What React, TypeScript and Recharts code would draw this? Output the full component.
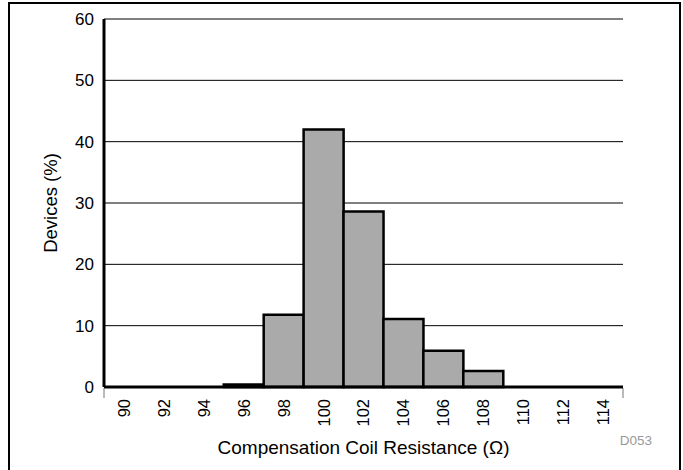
import React from 'react';
import { BarChart, Bar, XAxis, YAxis, CartesianGrid, Label } from 'recharts';

const categories = ['90', '92', '94', '96', '98', '100', '102', '104', '106', '108', '110', '112', '114'];
const devicesPct = [0, 0, 0, 0.4, 11.8, 42.0, 28.6, 11.1, 5.9, 2.6, 0, 0, 0];
const yTicks = [0, 10, 20, 30, 40, 50, 60];

const data = categories.map((c, i) => ({ bin: c, pct: devicesPct[i] }));

const FONT = "Arial, 'Liberation Sans', sans-serif";

const XTick = (props: any) => {
  const { x, y, payload } = props;
  return (
    <text
      x={x}
      y={y}
      transform={`rotate(-90, ${x}, ${y})`}
      textAnchor="end"
      dy="0.36em"
      style={{ fontSize: 16.5, fontFamily: FONT }}
      fill="#000"
    >
      {payload.value}
    </text>
  );
};

const YTick = (props: any) => {
  const { x, y, payload } = props;
  return (
    <text
      x={x}
      y={y}
      textAnchor="end"
      dy="0.36em"
      style={{ fontSize: 17, fontFamily: FONT }}
      fill="#000"
    >
      {payload.value}
    </text>
  );
};

const XTitle = (props: any) => {
  const vb = props.viewBox || { x: 104, y: 387, width: 519, height: 83 };
  return (
    <text
      x={vb.x + vb.width / 2}
      y={vb.y + 67}
      textAnchor="middle"
      style={{ fontSize: 19, fontFamily: FONT }}
      fill="#000"
    >
      Compensation Coil Resistance (Ω)
    </text>
  );
};

const YTitle = (props: any) => {
  const vb = props.viewBox || { x: 0, y: 19, width: 104, height: 368 };
  const cx = vb.x + 50;
  const cy = vb.y + vb.height / 2;
  return (
    <text
      x={cx}
      y={cy}
      transform={`rotate(-90, ${cx}, ${cy})`}
      textAnchor="middle"
      dy="0.36em"
      style={{ fontSize: 18.5, fontFamily: FONT }}
      fill="#000"
    >
      Devices (%)
    </text>
  );
};

export default function App() {
  return (
    <div style={{ position: 'absolute', left: 0, top: 0, width: 683, height: 470, background: '#fff', overflow: 'hidden' }}>
      <div
        style={{
          position: 'absolute',
          left: 8,
          top: 2,
          width: 673,
          height: 480,
          border: '2px solid #000',
          boxSizing: 'border-box',
        }}
      />
      <BarChart
        width={683}
        height={470}
        data={data}
        margin={{ top: 19, right: 60, bottom: 0, left: 0 }}
        barCategoryGap={0}
        barGap={0}
        style={{ position: 'absolute', left: 0, top: 0 }}
      >
        <CartesianGrid vertical={false} stroke="#000" strokeWidth={1} />
        <XAxis
          dataKey="bin"
          interval={0}
          height={83}
          tickLine={false}
          tickMargin={6}
          axisLine={{ stroke: '#000', strokeWidth: 3 }}
          tick={<XTick />}
        >
          <Label content={<XTitle />} />
        </XAxis>
        <XAxis
          xAxisId="top"
          dataKey="bin"
          orientation="top"
          height={0}
          tick={false}
          tickLine={false}
          axisLine={{ stroke: '#000', strokeWidth: 3 }}
        />
        <YAxis
          width={104}
          domain={[0, 60]}
          ticks={yTicks}
          tickLine={false}
          tickMargin={4}
          axisLine={{ stroke: '#000', strokeWidth: 3 }}
          tick={<YTick />}
        >
          <Label content={<YTitle />} />
        </YAxis>
        <YAxis
          yAxisId="right"
          orientation="right"
          width={0}
          domain={[0, 60]}
          ticks={yTicks}
          tick={false}
          tickLine={false}
          axisLine={{ stroke: '#000', strokeWidth: 3 }}
        />
        <Bar dataKey="pct" fill="#aaaaaa" stroke="#000" strokeWidth={2.5} isAnimationActive={false} />
      </BarChart>
      <svg width={683} height={470} style={{ position: 'absolute', left: 0, top: 0, pointerEvents: 'none' }}>
        <line x1={104} y1={388} x2={104} y2={398} stroke="#777" strokeWidth={1} />
        <line x1={623} y1={388} x2={623} y2={398} stroke="#777" strokeWidth={1} />
        <text x={636} y={445} textAnchor="middle" style={{ fontSize: 13.5, fontFamily: FONT }} fill="#999">
          D053
        </text>
      </svg>
    </div>
  );
}
